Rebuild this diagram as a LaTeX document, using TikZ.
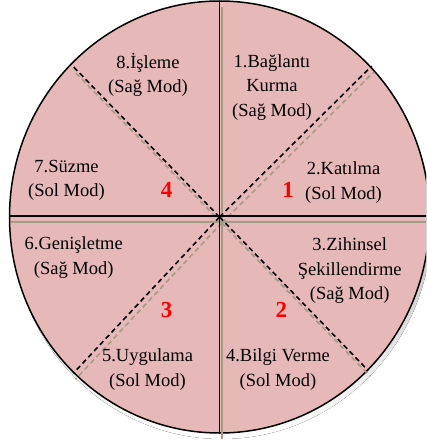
\documentclass[tikz,border=0pt]{standalone}
\usepackage{fontspec}
\setmainfont{Liberation Serif}
\begin{document}
\begin{tikzpicture}[x=1pt,y=-1pt]
\definecolor{pinkfill}{RGB}{230,185,184}
\definecolor{shade}{RGB}{150,162,128}
\definecolor{lineshade}{RGB}{165,155,132}
\tikzset{
 lbl/.style={font=\fontsize{18.5}{24.5}\selectfont, align=center, inner sep=0pt},
 num/.style={font=\fontsize{23}{23}\selectfont\bfseries, text=red, inner sep=0pt},
 solidline/.style={line width=1.8pt, draw=black},
 dashline/.style={line width=1.6pt, draw=black, dash pattern=on 5pt off 3.5pt},
 shadesolid/.style={line width=2pt, draw=lineshade},
 shadedash/.style={line width=1.6pt, draw=lineshade, dash pattern=on 5pt off 3.5pt},
 sh/.style={shift={(2.2,6)}},
}
\useasboundingbox (0,0) rectangle (426,444);
\clip (0,0) rectangle (426,444);
% geometry
\coordinate (c) at (219.5,217);
\coordinate (top) at (219.5,1);
\coordinate (bot) at (219.5,433);
\coordinate (lft) at (9,216);
\coordinate (rgt) at (430,216);
\coordinate (nw) at (71.7,65);
\coordinate (ne) at (371.7,66);
\coordinate (sw) at (73.3,373.3);
\coordinate (se) at (368,370.3);
% shadow of disc
\fill[shade] ([sh]c) ellipse [x radius=210pt, y radius=216pt];
% disc
\filldraw[fill=pinkfill, draw=black, line width=1.5pt] (c) ellipse [x radius=210pt, y radius=216pt];
% shadow lines
\draw[shadesolid] ([sh]top) -- ([sh]bot);
\draw[shadesolid] ([sh]lft) -- ([sh]rgt);
\draw[shadedash] ([sh]c) -- ([sh]nw);
\draw[shadedash] ([sh]c) -- ([sh]ne);
\draw[shadedash] ([sh]c) -- ([sh]sw);
\draw[shadedash] ([sh]c) -- ([sh]se);
% lines
\draw[solidline] (top) -- (bot);
\draw[solidline] (lft) -- (rgt);
\draw[dashline] (c) -- (nw);
\draw[dashline] (c) -- (ne);
\draw[dashline] (c) -- (sw);
\draw[dashline] (c) -- (se);
% labels
\node[lbl] (t1) at (272,87.5) {1.Bağlantı\\Kurma\\(Sağ Mod)};
\node[lbl] (t2) at (343.5,182.5) {2.Katılma\\(Sol Mod)};
\node[lbl] (t3) at (349.7,271) {3.Zihinsel\\Şekillendirme\\(Sağ Mod)};
\node[lbl] (t4) at (278,369.5) {4.Bilgi Verme\\(Sol Mod)};
\node[lbl] (t5) at (147.5,369.5) {5.Uygulama\\(Sol Mod)};
\node[lbl] (t6) at (73.7,257.5) {6.Genişletme\\(Sağ Mod)};
\node[lbl] (t7) at (66.5,180.5) {7.Süzme\\(Sol Mod)};
\node[lbl] (t8) at (148,75) {8.İşleme\\(Sağ Mod)};
% quadrant numbers
\node[num] (n1) at (288,190) {1};
\node[num] (n2) at (281.3,310) {2};
\node[num] (n3) at (166.7,310) {3};
\node[num] (n4) at (166.7,190) {4};
\end{tikzpicture}
\end{document}
